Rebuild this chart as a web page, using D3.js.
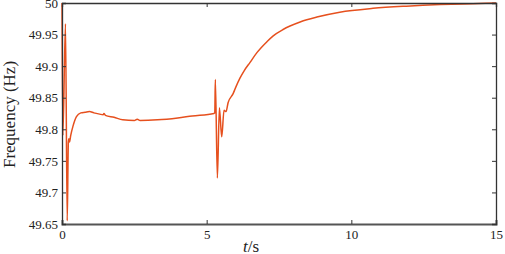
<!DOCTYPE html>
<html>
<head>
<meta charset="utf-8">
<script src="https://cdn.jsdelivr.net/npm/d3@7"></script>
<style>
  body { margin: 0; background: #fff; }
</style>
</head>
<body>
<div id="chart"></div>
<script>
// values
const time = [0, 0.03, 0.12, 0.18, 0.22, 0.24, 0.26, 0.3, 0.38, 0.5, 0.65, 0.8, 0.95, 1.1, 1.3, 1.42, 1.45, 1.5,
  1.8, 2.1, 2.5, 2.6, 2.7, 3.3, 4.0, 4.5, 5.25, 5.28, 5.3, 5.37, 5.44, 5.52, 5.6, 5.67, 5.74, 5.91, 6.0, 6.15, 6.3,
  6.5, 6.73, 7.09, 7.3, 7.64, 7.88, 8.23, 8.46, 8.81, 9.6, 10.75, 11.9, 13.07, 14.2, 15];
const freq = [50, 49.79, 49.967, 49.655, 49.78, 49.785, 49.78, 49.79, 49.805, 49.82, 49.826, 49.827, 49.828, 49.826, 49.824, 49.823, 49.825, 49.822,
  49.819, 49.815, 49.814, 49.816, 49.814, 49.815, 49.818, 49.821, 49.825, 49.826, 49.879, 49.723, 49.834, 49.788, 49.83, 49.828, 49.842, 49.856, 49.866, 49.881, 49.893,
  49.906, 49.921, 49.939, 49.948, 49.958, 49.9635, 49.97, 49.9735, 49.9778, 49.9855, 49.9915, 49.995, 49.9975, 49.999, 50];
const xTicks = [0, 5, 10, 15];
const yTicks = [49.65, 49.7, 49.75, 49.8, 49.85, 49.9, 49.95, 50];

const serif = "serif";
const margin = {top: 3, right: 9, bottom: 30, left: 62};
const W = 505, H = 254;
const width = W - margin.left - margin.right;
const height = H - margin.top - margin.bottom;

const x = d3.scaleLinear().domain([0, 15]).range([0, width]);
const y = d3.scaleLinear().domain([49.65, 50]).range([height, 0]);

const svg = d3.select("#chart").append("svg")
    .attr("width", W)
    .attr("height", H)
  .append("g")
    .attr("transform", "translate(" + margin.left + "," + margin.top + ")");

const data = time.map((t, i) => ({t: t, f: freq[i]}));

// the curve
svg.append("path")
    .datum(data)
    .attr("fill", "none")
    .attr("stroke", "#e6501e")
    .attr("stroke-width", 1.5)
    .attr("stroke-linejoin", "round")
    .attr("d", d3.line().curve(d3.curveMonotoneX).x(d => x(d.t)).y(d => y(d.f)));

// axes, ticks pointing inward on every side
const fmt = d => String(+d.toFixed(2));
const axBottom = svg.append("g")
    .attr("transform", "translate(0," + height + ")")
    .call(d3.axisBottom(x).tickValues(xTicks).tickSize(-4).tickPadding(6).tickFormat(fmt));
const axTop = svg.append("g")
    .call(d3.axisTop(x).tickValues(xTicks).tickSize(-4).tickFormat(""));
const axLeft = svg.append("g")
    .call(d3.axisLeft(y).tickValues(yTicks).tickSize(-4).tickPadding(4).tickFormat(fmt));
const axRight = svg.append("g")
    .attr("transform", "translate(" + width + ",0)")
    .call(d3.axisRight(y).tickValues(yTicks).tickSize(-4).tickFormat(""));

[axBottom, axTop, axLeft, axRight].forEach(g => {
  g.attr("font-family", serif).attr("font-size", 13);
  g.select(".domain").attr("stroke", "#333").attr("stroke-width", 1.3);
  g.selectAll(".tick line").attr("stroke", "#333");
  g.selectAll("text").attr("fill", "#222");
});
axBottom.select(".domain").attr("stroke", "#555").attr("stroke-width", 2);

// axis titles
svg.append("text")
    .attr("transform", "translate(-47," + (height / 2 + 1) + ") rotate(-90)")
    .attr("text-anchor", "middle")
    .attr("fill", "#222")
    .attr("font-family", serif)
    .attr("font-size", 17)
    .text("Frequency (Hz)");

const xt = svg.append("text")
    .attr("x", 189)
    .attr("y", height + 28)
    .attr("text-anchor", "middle")
    .attr("fill", "#222")
    .attr("font-family", serif)
    .attr("font-size", 17);
xt.append("tspan").attr("font-style", "italic").text("t");
xt.append("tspan").text("/s");
</script>
</body>
</html>
